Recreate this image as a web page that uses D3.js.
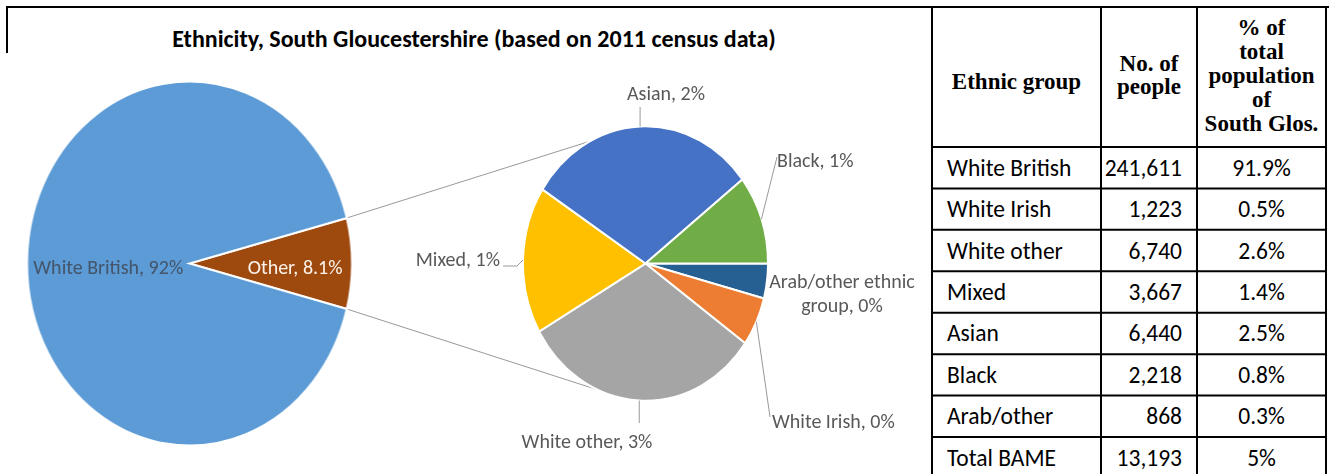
<!DOCTYPE html>
<html>
<head>
<meta charset="utf-8">
<script src="https://cdn.jsdelivr.net/npm/d3@7"></script>
<style>
  html, body { margin: 0; padding: 0; background: #fff; }
  svg { display: block; }
</style>
</head>
<body>
<svg id="chart" width="1330" height="474"></svg>
<script>
// ---- Data: South Gloucestershire, 2011 census ----
const chartTitle = "Ethnicity, South Gloucestershire (based on 2011 census data)";

// Main pie: White British and everyone else
const mainCategories = ["Other", "White British"];
const whiteBritishCount = 241611;
const mainFormats = [".1%", ".0%"];

// Breakdown of "Other" for the second pie, clockwise from 3 o'clock
const subCategories = ["Arab/other ethnic group", "White Irish", "White other", "Mixed", "Asian", "Black"];
const subCounts = [868, 1223, 6740, 3667, 6440, 2218];

// Table beside the chart
const tableHeaders = [["Ethnic group"], ["No. of", "people"], ["% of", "total", "population", "of", "South Glos."]];
const tableGroups = ["White British", "White Irish", "White other", "Mixed", "Asian", "Black", "Arab/other", "Total BAME"];
const tablePeople = [241611, 1223, 6740, 3667, 6440, 2218, 868, 13193];
const tableShares = ["91.9%", "0.5%", "2.6%", "1.4%", "2.5%", "0.8%", "0.3%", "5%"];

// ---- Drawing ----
const svg = d3.select("#chart");
const labelFont = "Calibri, Carlito, Lato, sans-serif";
const labelSize = 20;

const defs = svg.append("defs");
defs.append("filter").attr("id", "soft").attr("x", "-5%").attr("y", "-5%").attr("width", "110%").attr("height", "110%")
  .append("feGaussianBlur").attr("stdDeviation", 0.55);

const otherCount = d3.sum(subCounts);
const mainValues = [otherCount, whiteBritishCount];
const totalPop = d3.sum(mainValues);

const mainColor = d3.scaleOrdinal().domain(mainCategories).range(["#9E480E", "#5B9BD5"]);
const subColor = d3.scaleOrdinal().domain(subCategories)
  .range(["#255E91", "#ED7D31", "#A5A5A5", "#FFC000", "#4472C4", "#70AD47"]);

const squash = 1.12;                       // both pies are drawn slightly taller than wide
const main = { cx: 189.5, cy: 263.5, r: 162.5 };
const sub  = { cx: 645.5, cy: 263.5, r: 122.5 };
const deg = Math.PI / 180;

// point on a pie at a d3 angle (0 = 12 o'clock, clockwise)
function at(p, angle, radius) {
  return [p.cx + radius * Math.sin(angle), p.cy - radius * squash * Math.cos(angle)];
}

// frame lines of the layout
svg.append("line").attr("x1", 6).attr("x2", 1329).attr("y1", 7).attr("y2", 7)
  .attr("stroke", "#000").attr("stroke-width", 2);
svg.append("line").attr("x1", 7).attr("x2", 7).attr("y1", 6).attr("y2", 53)
  .attr("stroke", "#000").attr("stroke-width", 2);

svg.append("text").attr("x", 474).attr("y", 47).attr("text-anchor", "middle")
  .attr("font-family", labelFont).attr("font-weight", "bold").attr("font-size", 24)
  .attr("fill", "#000").text(chartTitle);

const chart = svg.append("g").attr("filter", "url(#soft)");

// main pie layout: the "Other" slice is centred on 3 o'clock
const otherSweep = 2 * Math.PI * otherCount / totalPop;
const mainStart = Math.PI / 2 - otherSweep / 2;
const mainArcs = d3.pie().sort(null).startAngle(mainStart).endAngle(mainStart + 2 * Math.PI)(mainValues);
const subArcs = d3.pie().sort(null).startAngle(Math.PI / 2).endAngle(Math.PI / 2 + 2 * Math.PI)(subCounts);

// connector lines between the "Other" slice and the breakdown pie
const connectors = [
  [at(main, mainArcs[0].startAngle, main.r), at(sub, 333 * deg, sub.r)],
  [at(main, mainArcs[0].endAngle, main.r), at(sub, 203 * deg, sub.r)]
];
chart.selectAll("line.connector").data(connectors).join("line").attr("class", "connector")
  .attr("x1", d => d[0][0]).attr("y1", d => d[0][1]).attr("x2", d => d[1][0]).attr("y2", d => d[1][1])
  .attr("stroke", "#999999").attr("stroke-width", 1);

const mainArc = d3.arc().innerRadius(0).outerRadius(main.r);
chart.append("g").attr("transform", `translate(${main.cx},${main.cy}) scale(1,${squash})`)
  .selectAll("path").data(mainArcs).join("path")
  .attr("d", mainArc)
  .attr("fill", (d, i) => mainColor(mainCategories[i]))
  .attr("stroke", "#fff").attr("stroke-width", 2).attr("vector-effect", "non-scaling-stroke");

const subArc = d3.arc().innerRadius(0).outerRadius(sub.r);
chart.append("g").attr("transform", `translate(${sub.cx},${sub.cy}) scale(1,${squash})`)
  .selectAll("path").data(subArcs).join("path")
  .attr("d", subArc)
  .attr("fill", (d, i) => subColor(subCategories[i]))
  .attr("stroke", "#fff").attr("stroke-width", 2).attr("vector-effect", "non-scaling-stroke");

// main pie labels (inside the slices)
const mainLabelRadius = [0.65, 0.5];
const mainLabelFill = ["#fbf3ea", "#44546a"];
mainArcs.forEach((a, i) => {
  const mid = (a.startAngle + a.endAngle) / 2;
  const [x, y] = at(main, mid, main.r * mainLabelRadius[i]);
  chart.append("text").attr("x", x).attr("y", y + 10).attr("text-anchor", "middle")
    .attr("font-family", labelFont).attr("font-size", labelSize).attr("fill", mainLabelFill[i])
    .text(`${mainCategories[i]}, ${d3.format(mainFormats[i])(mainValues[i] / totalPop)}`);
});

// breakdown pie labels (outside, with leader lines)
const subLabelLayout = {
  "Arab/other ethnic group": { x: 842, y: 288, anchor: "middle", leader: null },
  "White Irish":             { x: 772, y: 428, anchor: "start",  leader: [[770, 417]] },
  "White other":             { x: 587, y: 448, anchor: "middle", leader: [[null, 423]] },
  "Mixed":                   { x: 500, y: 266, anchor: "end",    leader: [[517, 266], [503, 266]] },
  "Asian":                   { x: 666, y: 100, anchor: "middle", leader: [[null, 107]] },
  "Black":                   { x: 777, y: 167, anchor: "start",  leader: [[777, 157]] }
};
const wrapWidth = 165;
subArcs.forEach((a, i) => {
  const name = subCategories[i];
  const lay = subLabelLayout[name];
  const mid = (a.startAngle + a.endAngle) / 2;
  const edge = at(sub, mid, sub.r);
  if (lay.leader) {
    const pts = [edge].concat(lay.leader.map(p => [p[0] === null ? edge[0] : p[0], p[1]]));
    chart.append("path").attr("d", d3.line()(pts))
      .attr("fill", "none").attr("stroke", "#999999").attr("stroke-width", 1);
  }
  const text = chart.append("text").attr("x", lay.x).attr("y", lay.y).attr("text-anchor", lay.anchor)
    .attr("font-family", labelFont).attr("font-size", labelSize).attr("fill", "#595959");
  const words = `${name}, ${d3.format(".0%")(subCounts[i] / totalPop)}`.split(" ");
  let line = [], tspan = text.append("tspan").attr("x", lay.x);
  words.forEach(w => {
    line.push(w);
    tspan.text(line.join(" "));
    if (tspan.node().getComputedTextLength() > wrapWidth && line.length > 1) {
      line.pop();
      tspan.text(line.join(" "));
      line = [w];
      tspan = text.append("tspan").attr("x", lay.x).attr("dy", 24).text(w);
    }
  });
});

// ---- Table ----
const colX = [932, 1101, 1197, 1326];
const headerBottom = 147;
const rowY = d3.scaleLinear().domain([0, tableGroups.length]).range([headerBottom, 478.4]);
const table = svg.append("g");

// grid
colX.forEach(x => table.append("line").attr("x1", x).attr("x2", x).attr("y1", 6).attr("y2", 480)
  .attr("stroke", "#000").attr("stroke-width", 2));
d3.range(tableGroups.length + 1).forEach(i => table.append("line")
  .attr("x1", colX[0] - 1).attr("x2", colX[3] + 1).attr("y1", rowY(i)).attr("y2", rowY(i))
  .attr("stroke", "#000").attr("stroke-width", 2));

// header
const headerFont = "'Liberation Serif', 'Times New Roman', serif";
const headerBaselines = [[89], [71, 94], [35, 59, 83, 107, 131]];
tableHeaders.forEach((lines, c) => {
  const cx = (colX[c] + colX[c + 1]) / 2;
  lines.forEach((t, k) => table.append("text").attr("x", cx).attr("y", headerBaselines[c][k])
    .attr("text-anchor", "middle").attr("font-family", headerFont).attr("font-weight", "bold")
    .attr("font-size", 23).attr("fill", "#000").text(t));
});

// body rows
const bodyFont = "Calibri, Carlito, Lato, sans-serif";
const bodySize = 23.5;
tableGroups.forEach((g, i) => {
  const base = (rowY(i) + rowY(i + 1)) / 2 + 8;
  table.append("text").attr("x", 947).attr("y", base).attr("font-family", bodyFont)
    .attr("font-size", bodySize).attr("fill", "#000").text(g);
  table.append("text").attr("x", 1182).attr("y", base).attr("text-anchor", "end").attr("font-family", bodyFont)
    .attr("font-size", bodySize).attr("fill", "#000").text(d3.format(",")(tablePeople[i]));
  table.append("text").attr("x", (colX[2] + colX[3]) / 2).attr("y", base).attr("text-anchor", "middle")
    .attr("font-family", bodyFont).attr("font-size", bodySize).attr("fill", "#000").text(tableShares[i]);
});
</script>
</body>
</html>
